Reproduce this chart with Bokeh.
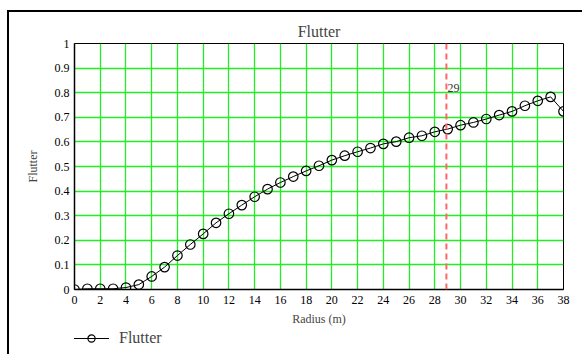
from bokeh.plotting import figure
from bokeh.layouts import column
from bokeh.models import FixedTicker, Span, Label, Legend, LegendItem, Range1d
from bokeh.embed import file_html
from bokeh.resources import INLINE

# ---- data ----
radius = list(range(0, 39))
flutter = [0.0, 0.003, 0.003, 0.003, 0.008, 0.020, 0.053, 0.091, 0.138, 0.183,
           0.226, 0.271, 0.308, 0.343, 0.377, 0.408, 0.435, 0.459, 0.482, 0.503,
           0.526, 0.544, 0.560, 0.575, 0.592, 0.601, 0.617, 0.625, 0.641, 0.652,
           0.668, 0.679, 0.693, 0.709, 0.724, 0.747, 0.767, 0.783, 0.724]
x_ticks = list(range(0, 39, 2))
y_ticks = [0, 0.1, 0.2, 0.3, 0.4, 0.5, 0.6, 0.7, 0.8, 0.9, 1]
marker_x = 28.9
marker_label = "29"
marker_label_y = 0.82
series_name = "Flutter"

FONT = "Liberation Serif"

p = figure(frame_width=489, frame_height=246,
           x_range=Range1d(0, 38), y_range=Range1d(0, 1),
           output_backend="svg", toolbar_location=None,
           min_border_left=65, min_border_top=31, min_border_right=19, min_border_bottom=40,
           title="Flutter")

p.title.align = "center"
p.title.text_font = FONT
p.title.text_font_size = "16px"
p.title.text_font_style = "normal"
p.title.standoff = 7

p.outline_line_color = "black"
p.outline_line_width = 1

for ax in (p.xaxis[0], p.yaxis[0]):
    ax.major_label_text_font = FONT
    ax.major_label_text_font_size = "12px"
    ax.major_label_text_color = "black"
    ax.axis_label_text_font = FONT
    ax.axis_label_text_font_size = "12px"
    ax.axis_label_text_font_style = "normal"
    ax.axis_line_color = "black"
    ax.axis_line_width = 1.5
    ax.major_tick_out = 0
    ax.major_tick_in = 0
    ax.minor_tick_out = 0
    ax.minor_tick_in = 0

p.xaxis.ticker = FixedTicker(ticks=x_ticks)
p.yaxis.ticker = FixedTicker(ticks=y_ticks)
p.yaxis.major_label_overrides = {0: "0", 1: "1"}
p.xaxis.axis_label = "Radius (m)"
p.yaxis.axis_label = "Flutter"
p.xaxis.major_label_standoff = 6
p.yaxis.major_label_standoff = 5
p.xaxis.axis_label_standoff = 5
p.yaxis.axis_label_standoff = 12

p.xgrid.ticker = FixedTicker(ticks=x_ticks)
p.ygrid.ticker = FixedTicker(ticks=y_ticks)
p.grid.grid_line_color = "#22ee22"
p.grid.grid_line_width = 1.3
p.grid.grid_line_alpha = 1.0

vline = Span(location=marker_x, dimension="height", line_color="#ff6666",
             line_width=2, line_dash="6 4")
p.add_layout(vline)
p.add_layout(Label(x=marker_x, y=marker_label_y, text=marker_label, x_offset=1,
                   text_font=FONT, text_font_size="12px", text_color="#333333",
                   text_baseline="middle"))

p.line(radius, flutter, line_color="black", line_width=1)
p.scatter(radius, flutter, marker="circle", size=9.5, fill_color=None,
          line_color="black", line_width=1.2)

# ---- legend strip below the chart (its ranges keep the series out of view) ----
leg = figure(width=573, height=26, x_range=Range1d(-2, -1), y_range=Range1d(0, 1),
             output_backend="svg", toolbar_location=None, min_border=0)
leg.axis.visible = False
leg.grid.visible = False
leg.outline_line_color = None
l_ln = leg.line(radius, flutter, line_color="black", line_width=1)
l_sc = leg.scatter(radius, flutter, marker="circle", size=8, fill_color=None,
                   line_color="black", line_width=1.2)
legend = Legend(items=[LegendItem(label=series_name, renderers=[l_ln, l_sc])],
                location=(-1, 8), orientation="horizontal",
                label_text_font=FONT, label_text_font_size="16px",
                glyph_width=36, glyph_height=18, label_standoff=10, padding=0, margin=0,
                border_line_color=None, background_fill_alpha=0)
leg.add_layout(legend)

layout = column(p, leg, spacing=0, margin=(10, 0, 0, 7),
                styles={"border-top": "2px solid black", "border-left": "2px solid black"})

open("out.html", "w").write(file_html(layout, INLINE))
